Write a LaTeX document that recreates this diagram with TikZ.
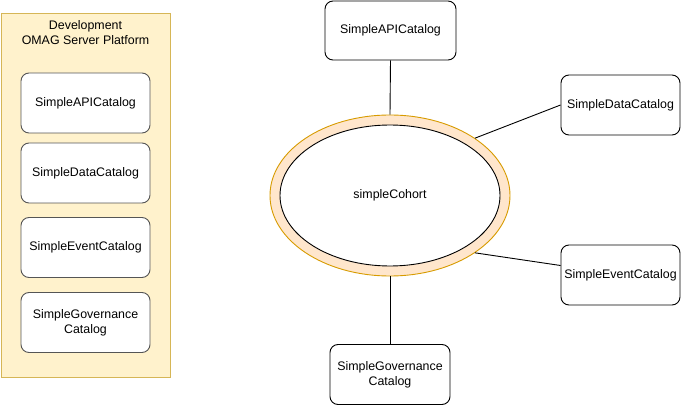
\documentclass[tikz,border=0pt]{standalone}
\usepackage{fontspec}
\setmainfont{Liberation Sans}
\usetikzlibrary{shapes.geometric}
\definecolor{panelfill}{HTML}{FFF2CC}
\definecolor{paneldraw}{HTML}{D6B656}
\definecolor{ringfill}{HTML}{FFE6CC}
\definecolor{ringdraw}{HTML}{D79B00}
\definecolor{boxdraw}{HTML}{555555}
\tikzset{
  txt/.style={font=\fontsize{12.4}{15}\selectfont},
  catbox/.style={draw=black, fill=white, rounded corners=8pt, line width=0.9pt,
    align=center, inner sep=2pt, txt},
  leftbox/.style={catbox, draw=boxdraw, minimum width=129pt, minimum height=60pt},
  rightbox/.style={catbox, minimum width=120pt, minimum height=60pt},
  link/.style={draw=black, line width=0.9pt},
}
\begin{document}
\begin{tikzpicture}[x=1pt,y=-1pt]
\useasboundingbox (0,0) rectangle (681,406);
% left platform panel
\node[draw=paneldraw, fill=panelfill, line width=0.9pt, minimum width=169pt, minimum height=364pt,
  anchor=north west, inner sep=0pt] (panel) at (1,13) {};
\node[align=center, txt, anchor=north] (ptitle) at (85.5,16.5) {Development\\OMAG Server Platform};
\node[leftbox] (lapi) at (85.5,103) {SimpleAPICatalog};
\node[leftbox] (ldata) at (85.5,173) {SimpleDataCatalog};
\node[leftbox] (levent) at (85.5,247.5) {SimpleEventCatalog};
\node[leftbox] (lgov) at (85.5,322.5) {SimpleGovernance\\Catalog};
% cohort
\node[ellipse, draw=ringdraw, fill=ringfill, line width=0.9pt, minimum width=240pt, minimum height=161pt, inner sep=0pt] (ring) at (390,195.5) {};
\node[ellipse, draw=black, fill=white, line width=0.9pt, minimum width=220pt, minimum height=141pt, inner sep=0pt,
  txt] (cohort) at (390,195.5) {simpleCohort};
% right boxes
\node[catbox, minimum width=131pt, minimum height=59pt] (api) at (390.5,30.5) {SimpleAPICatalog};
\node[rightbox, minimum width=119pt] (data) at (620.5,105) {SimpleDataCatalog};
\node[rightbox, minimum width=119pt] (event) at (620.5,275) {SimpleEventCatalog};
\node[rightbox] (gov) at (390,374.5) {SimpleGovernance\\Catalog};
% connectors
\draw[link] (api.south) -- (ring.north);
\draw[link] (ring.south) -- (gov.north);
\draw[link] (ring.34) -- (data.west);
\draw[link] (ring.-34) -- (event.171);
\end{tikzpicture}
\end{document}
